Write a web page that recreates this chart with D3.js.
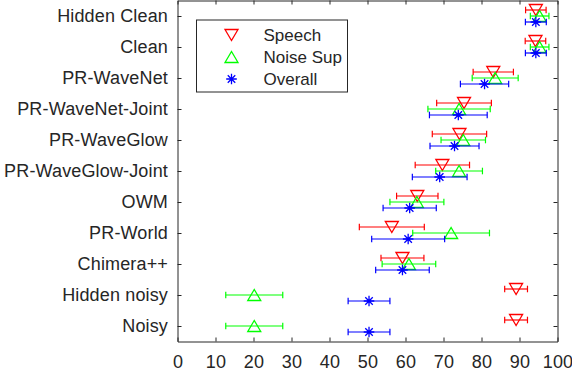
<!DOCTYPE html>
<html>
<head>
<meta charset="utf-8">
<script src="https://cdn.jsdelivr.net/npm/d3@7"></script>
<style>
  body { margin: 0; background: #fff; }
  svg text { font-family: "Liberation Sans", Arial, Helvetica, sans-serif; fill: #262626; }
</style>
</head>
<body>
<div id="plot"></div>
<script>
// Categories, top to bottom
var categories = ["Hidden Clean", "Clean", "PR-WaveNet", "PR-WaveNet-Joint", "PR-WaveGlow",
  "PR-WaveGlow-Joint", "OWM", "PR-World", "Chimera++", "Hidden noisy", "Noisy"];

// Mean scores and half-width of the error bars
var speechMean = [94.3, 94.2, 83.1, 75.4, 74.2, 69.7, 63.1, 56.4, 59.2, 89.1, 89.1];
var speechErr  = [2.7, 2.7, 5.3, 7.2, 7.15, 7.15, 5.45, 8.55, 5.65, 3.0, 3.0];
var noiseMean  = [95.3, 95.3, 83.6, 74.1, 75.2, 74.1, 63.0, 72.0, 60.9, 20.2, 20.2];
var noiseErr   = [2.45, 2.45, 6.05, 8.2, 5.85, 6.15, 7.1, 10.1, 7.05, 7.5, 7.5];
var overallMean = [94.3, 94.3, 80.8, 73.9, 72.9, 69.0, 61.1, 60.7, 59.2, 50.4, 50.4];
var overallErr  = [2.75, 2.75, 6.35, 7.6, 6.45, 7.2, 7.0, 9.6, 7.05, 5.5, 5.5];

var xTicks = [0, 10, 20, 30, 40, 50, 60, 70, 80, 90, 100];

var series = [
  { name: "Speech", mean: speechMean, err: speechErr, color: "#ff0000", marker: "down", offset: -6 },
  { name: "Noise Sup", mean: noiseMean, err: noiseErr, color: "#00ff00", marker: "up", offset: 0 },
  { name: "Overall", mean: overallMean, err: overallErr, color: "#0000ff", marker: "star", offset: 6 }
];

var svgWidth = 572;
var svgHeight = 370;
var margin = { top: 0.5, right: 14.5, bottom: 28.5, left: 177.5 };
var chartWidth = svgWidth - margin.left - margin.right;
var chartHeight = svgHeight - margin.top - margin.bottom;

var svg = d3.select("#plot")
  .append("svg")
  .attr("width", svgWidth)
  .attr("height", svgHeight);

var chartGroup = svg.append("g")
  .attr("transform", `translate(${margin.left}, ${margin.top})`);

var xScale = d3.scaleLinear().domain([0, 100]).range([0, chartWidth]);
var yScale = d3.scalePoint().domain(categories).range([0, chartHeight]).padding(0.5);

var axisColor = "#262626";

// axes: ticks point inward like a boxed plot
var bottomAxis = d3.axisBottom(xScale).tickValues(xTicks).tickSizeInner(-4).tickSizeOuter(0).tickPadding(13.5);
var topAxis = d3.axisTop(xScale).tickValues(xTicks).tickSizeInner(-4).tickSizeOuter(0).tickFormat("");
var leftAxis = d3.axisLeft(yScale).tickSizeInner(-4).tickSizeOuter(0).tickPadding(9.5);
var rightAxis = d3.axisRight(yScale).tickSizeInner(-4).tickSizeOuter(0).tickFormat("");

function styleAxis(g, size) {
  g.selectAll("path, line").attr("stroke", axisColor).attr("stroke-width", 1);
  g.selectAll("text").attr("font-size", size).attr("fill", axisColor)
    .style("font-family", "'Liberation Sans', Arial, sans-serif")
    .style("letter-spacing", "0.15px");
}

chartGroup.append("g").attr("transform", `translate(0, ${chartHeight})`).call(bottomAxis).call(styleAxis, 18);
chartGroup.append("g").call(topAxis).call(styleAxis, 18);
chartGroup.append("g").call(leftAxis).call(styleAxis, 18);
chartGroup.append("g").attr("transform", `translate(${chartWidth}, 0)`).call(rightAxis).call(styleAxis, 18);

// marker shapes
function markerPath(type) {
  if (type === "down") return "M-6.5,-5.5L6.5,-5.5L0,5.5Z";
  if (type === "up") return "M-6.5,5.5L6.5,5.5L0,-5.5Z";
  var r = 5.3, d = r * 0.7071;
  return `M${-r},0L${r},0M0,${-r}L0,${r}M${-d},${-d}L${d},${d}M${-d},${d}L${d},${-d}`;
}

var capH = 3.3;

series.forEach(function(s) {
  var g = chartGroup.append("g").attr("class", "series");
  var rows = categories.map(function(c, i) {
    return { cat: c, mean: s.mean[i], lo: s.mean[i] - s.err[i], hi: s.mean[i] + s.err[i] };
  });

  var bars = g.selectAll(".err").data(rows).enter().append("g").attr("class", "err")
    .attr("transform", d => `translate(0, ${yScale(d.cat) + s.offset})`);
  bars.append("line")
    .attr("x1", d => xScale(d.lo)).attr("x2", d => xScale(d.hi))
    .attr("y1", 0).attr("y2", 0);
  bars.append("line")
    .attr("x1", d => xScale(d.lo)).attr("x2", d => xScale(d.lo))
    .attr("y1", -capH).attr("y2", capH);
  bars.append("line")
    .attr("x1", d => xScale(d.hi)).attr("x2", d => xScale(d.hi))
    .attr("y1", -capH).attr("y2", capH);
  bars.selectAll("line").attr("stroke", s.color).attr("stroke-width", 1.2);

  g.selectAll(".mark").data(rows).enter().append("path").attr("class", "mark")
    .attr("transform", d => `translate(${xScale(d.mean)}, ${yScale(d.cat) + s.offset})`)
    .attr("d", markerPath(s.marker))
    .attr("fill", "none")
    .attr("stroke", s.color)
    .attr("stroke-width", 1.3);
});

// legend
var legend = svg.append("g").attr("transform", "translate(196.5, 20)");
legend.append("rect")
  .attr("width", 151).attr("height", 72)
  .attr("fill", "#fff").attr("stroke", axisColor).attr("stroke-width", 1);

var legendItems = legend.selectAll(".item").data(series).enter().append("g").attr("class", "item")
  .attr("transform", (d, i) => `translate(35, ${15 + i * 22})`);
legendItems.append("path")
  .attr("d", d => markerPath(d.marker))
  .attr("fill", "none").attr("stroke", d => d.color).attr("stroke-width", 1.3);
legendItems.append("text")
  .attr("x", 32).attr("dy", "0.35em")
  .attr("font-size", 17)
  .text(d => d.name);
</script>
</body>
</html>
